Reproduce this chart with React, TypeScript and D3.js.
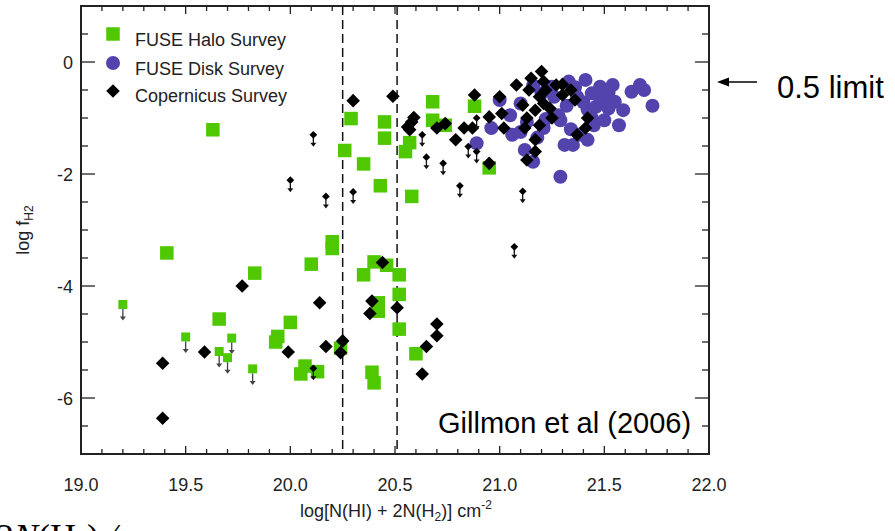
import React from "react";
import * as d3 from "d3";

// FUSE Halo Survey (green squares)
const haloPoints = [
  [19.63, -1.21], [20.29, -1.01], [20.45, -1.07], [20.45, -1.36], [20.26, -1.58],
  [20.35, -1.82], [20.68, -0.71], [20.68, -1.04], [20.74, -1.13], [20.57, -1.44],
  [20.55, -1.6], [20.88, -0.79], [20.95, -1.89], [20.43, -2.21], [20.58, -2.4],
  [20.2, -3.21], [20.2, -3.33], [20.1, -3.61], [20.4, -3.57], [20.46, -3.63],
  [20.35, -3.8], [20.52, -3.8], [20.52, -4.15], [20.42, -4.3], [20.42, -4.45],
  [20.52, -4.77], [20.24, -5.11], [20.6, -5.21], [20.07, -5.43], [20.13, -5.53],
  [20.05, -5.57], [20.39, -5.54], [20.4, -5.73], [19.41, -3.41], [19.83, -3.77],
  [19.66, -4.59], [20.0, -4.65], [19.94, -4.9], [19.93, -5.0],
];
const haloLimits = [
  [19.2, -4.33], [19.5, -4.91], [19.72, -4.93], [19.66, -5.17], [19.7, -5.28], [19.82, -5.48],
];

// FUSE Disk Survey (blue circles)
const diskPoints = [
  [20.89, -1.45], [20.96, -1.18], [21.0, -0.68], [21.06, -1.3], [21.1, -0.74],
  [21.12, -1.57], [21.13, -1.07], [21.16, -1.78], [21.2, -0.56], [21.21, -1.18],
  [21.25, -0.44], [21.29, -2.05], [21.29, -1.04], [21.31, -1.48], [21.33, -0.35],
  [21.35, -1.48], [21.37, -0.62], [21.38, -1.3], [21.41, -0.32], [21.42, -1.39],
  [21.44, -0.56], [21.45, -1.13], [21.46, -0.8], [21.48, -0.44], [21.49, -0.68],
  [21.5, -1.04], [21.52, -0.83], [21.54, -0.41], [21.55, -0.71], [21.57, -1.13],
  [21.59, -0.86], [21.63, -0.53], [21.67, -0.41], [21.69, -0.5], [21.73, -0.78],
  [21.26, -0.62], [21.32, -0.78], [21.4, -0.72], [21.28, -0.95], [21.36, -0.45],
  [21.42, -0.85], [21.22, -1.02], [21.48, -0.62], [21.16, -0.42], [21.05, -0.95],
  [21.1, -1.25], [21.34, -1.2], [21.18, -1.35], [21.52, -0.55], [21.44, -1.0],
];

// Copernicus Survey (black diamonds)
const copernicusPoints = [
  [20.88, -0.59], [20.74, -1.1], [20.79, -1.39], [20.83, -1.18], [20.87, -1.18],
  [20.95, -0.98], [21.0, -0.62], [21.01, -0.92], [21.02, -1.18], [20.95, -1.81],
  [21.08, -0.41], [21.11, -0.77], [21.13, -1.0], [21.12, -1.18], [21.14, -0.5],
  [21.15, -0.29], [21.17, -1.39], [21.17, -1.6], [21.13, -1.75], [21.19, -1.13],
  [21.2, -0.17], [21.21, -0.35], [21.19, -0.62], [21.22, -0.5], [21.21, -0.74],
  [21.24, -0.83], [21.25, -1.0], [21.27, -0.41], [21.3, -0.4], [21.3, -0.59],
  [21.34, -0.5], [21.36, -0.68], [21.42, -1.0], [21.41, -1.18], [21.37, -1.3],
  [21.17, -0.86], [20.3, -0.69], [20.49, -0.61], [20.59, -0.99], [20.58, -1.07],
  [20.56, -1.16], [20.57, -1.21], [20.7, -1.18], [19.77, -4.0], [20.14, -4.3],
  [20.39, -4.27], [20.38, -4.49], [20.25, -4.98], [20.17, -5.08], [20.24, -5.19],
  [19.39, -5.38], [19.39, -6.36], [19.59, -5.18], [19.99, -5.18], [20.44, -3.58],
  [20.51, -4.39], [20.7, -4.68], [20.7, -4.89], [20.65, -5.08], [20.63, -5.57],
];
const copernicusLimits = [
  [20.11, -1.3], [20.63, -1.3], [20.65, -1.7], [20.73, -1.81], [20.89, -1.0],
  [20.85, -1.51], [20.89, -1.6], [20.81, -2.21], [21.11, -2.31], [20.0, -2.11],
  [20.17, -2.4], [20.3, -2.32], [21.07, -3.3], [20.11, -5.47],
];

const xTicks = [19.0, 19.5, 20.0, 20.5, 21.0, 21.5, 22.0];
const yTicks = [0, -2, -4, -6];
const dashedLines = [20.25, 20.51];

const GREEN = "#4fc800";
const BLUE = "#5343ad";
const font = "'Liberation Sans', Arial, Helvetica, sans-serif";

export default function App() {
  const width = 895;
  const height = 531;
  const left = 81, right = 709, top = 6, bottom = 454;

  const x = d3.scaleLinear().domain([19, 22]).range([left, right]);
  const y = d3.scaleLinear().domain([-7, 1]).range([bottom, top]);

  const minorX = d3.range(19, 22.001, 0.1);
  const minorY = d3.range(-7, 1.001, 0.5);

  const diamond = d3.symbol(d3.symbolSquare, 92)();
  const smallDiamond = d3.symbol(d3.symbolSquare, 30)();
  const bigSquare = 13.5;
  const smallSquare = 9;

  // upper-limit arrow drawn below a marker
  const arrow = (cx, cy, y0, len, color) => (
    <g>
      <line x1={cx} x2={cx} y1={cy + y0} y2={cy + len - 3} stroke={color} strokeWidth={1.3} />
      <path d={`M${cx - 3},${cy + len - 4} L${cx + 3},${cy + len - 4} L${cx},${cy + len} Z`} fill={color} />
    </g>
  );

  return (
    <svg width={width} height={height} style={{ position: "absolute", left: 0, top: 0, background: "#fff" }} fontFamily={font}>
      {dashedLines.map((v) => (
        <line key={v} x1={x(v)} x2={x(v)} y1={top} y2={bottom} stroke="#111" strokeWidth={1.5} strokeDasharray="9,5" />
      ))}

      {minorX.map((v, i) => {
        const l = i % 5 === 0 ? 8 : 5;
        return (
          <g key={"mx" + i} stroke="#222" strokeWidth={1.3}>
            <line x1={x(v)} x2={x(v)} y1={bottom} y2={bottom - l} />
            <line x1={x(v)} x2={x(v)} y1={top} y2={top + l} />
          </g>
        );
      })}
      {minorY.map((v, i) => {
        const l = yTicks.includes(v) ? 14 : 7;
        return (
          <g key={"my" + i} stroke="#222" strokeWidth={1.3}>
            <line x1={left} x2={left + l} y1={y(v)} y2={y(v)} />
            <line x1={right} x2={right - l} y1={y(v)} y2={y(v)} />
          </g>
        );
      })}

      <rect x={left} y={top} width={right - left} height={bottom - top} fill="none" stroke="#222" strokeWidth={2} />

      {xTicks.map((v) => (
        <text key={"xl" + v} x={x(v)} y={491} textAnchor="middle" fontSize={18} fill="#222">
          {v.toFixed(1)}
        </text>
      ))}
      {yTicks.map((v) => (
        <text key={"yl" + v} x={73} y={y(v) + 6.5} textAnchor="end" fontSize={18} fill="#222">
          {v}
        </text>
      ))}

      <text x={396} y={517} textAnchor="middle" fontSize={18} fill="#222">
        log[N(HI) + 2N(H<tspan fontSize={12} dy={4}>2</tspan>
        <tspan dy={-4}>)] cm</tspan>
        <tspan fontSize={12} dy={-8}>-2</tspan>
      </text>
      <text transform="translate(29,230) rotate(-90)" textAnchor="middle" fontSize={18} fill="#222">
        log f<tspan fontSize={12} dy={4}>H2</tspan>
      </text>

      {haloPoints.map(([a, b], i) => (
        <rect key={"h" + i} x={x(a) - bigSquare / 2} y={y(b) - bigSquare / 2} width={bigSquare} height={bigSquare} fill={GREEN} />
      ))}
      {haloLimits.map(([a, b], i) => (
        <g key={"hl" + i}>
          <rect x={x(a) - smallSquare / 2} y={y(b) - smallSquare / 2} width={smallSquare} height={smallSquare} fill={GREEN} />
          {arrow(x(a), y(b), smallSquare / 2, 16, "#444")}
        </g>
      ))}

      {diskPoints.map(([a, b], i) => (
        <circle key={"d" + i} cx={x(a)} cy={y(b)} r={7} fill={BLUE} />
      ))}

      {copernicusPoints.map(([a, b], i) => (
        <path key={"c" + i} d={diamond} transform={`translate(${x(a)},${y(b)}) rotate(45)`} fill="#000" />
      ))}
      {copernicusLimits.map(([a, b], i) => (
        <g key={"cl" + i}>
          <path d={smallDiamond} transform={`translate(${x(a)},${y(b)}) rotate(45)`} fill="#000" />
          {arrow(x(a), y(b), 3, 12, "#111")}
        </g>
      ))}

      {/* legend */}
      <rect x={113 - bigSquare / 2} y={34 - bigSquare / 2} width={bigSquare} height={bigSquare} fill={GREEN} />
      <circle cx={113} cy={63} r={7} fill={BLUE} />
      <path d={diamond} transform="translate(113,91) rotate(45)" fill="#000" />
      <text x={135} y={46} fontSize={18} fill="#222">FUSE Halo Survey</text>
      <text x={135} y={75} fontSize={18} fill="#222">FUSE Disk Survey</text>
      <text x={135} y={102} fontSize={18} fill="#222">Copernicus Survey</text>

      <text x={438} y={433} fontSize={29} fill="#000">Gillmon et al (2006)</text>
      <line x1={757} x2={726} y1={82} y2={82} stroke="#000" strokeWidth={1.5} />
      <path d="M717,82 L729,77.5 L729,86.5 Z" fill="#000" />
      <text x={777} y={98} fontSize={31} fill="#000">0.5 limit</text>

      {/* slide text cut off by the bottom edge, as in the reference */}
      <text x={-4} y={549} fontSize={36} fontFamily="'Liberation Serif', 'Times New Roman', serif" fill="#000">
        2<tspan fontStyle="italic">N</tspan>(H<tspan fontSize={22} dy={6}>2</tspan>
        <tspan dy={-6}>) ⁄</tspan>
      </text>
    </svg>
  );
}
